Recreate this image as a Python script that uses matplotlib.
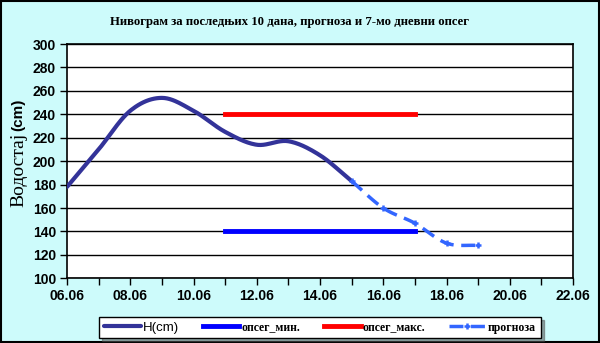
import numpy as np
import matplotlib
matplotlib.use('Agg')
import matplotlib.pyplot as plt
from matplotlib.patches import Rectangle
from matplotlib.ticker import MultipleLocator

# --- DATA ---
# day of June for each reading
days_h = [6, 7, 8, 9, 10, 11, 12, 13, 14, 15]
level_h = [178, 210, 243, 254, 243, 225, 214, 217, 205, 183]

days_fc = [15, 16, 17, 18, 19]
level_fc = [183, 160, 147, 130, 128]

range_days = [11, 17]
range_min = [140, 140]
range_max = [240, 240]

x_ticks = [6, 8, 10, 12, 14, 16, 18, 20, 22]
x_labels = ['%02d.06' % d for d in x_ticks]

BG = '#cdfbfb'


def smooth(x, y, n=24):
    """Catmull-Rom curve through the points (like Excel's smoothed line)."""
    x = np.asarray(x, float)
    y = np.asarray(y, float)
    px = np.concatenate([[2 * x[0] - x[1]], x, [2 * x[-1] - x[-2]]])
    py = np.concatenate([[2 * y[0] - y[1]], y, [2 * y[-1] - y[-2]]])
    xs, ys = [], []
    t = np.linspace(0, 1, n, endpoint=False)
    for i in range(1, len(px) - 2):
        for p, out in ((px, xs), (py, ys)):
            p0, p1, p2, p3 = p[i - 1], p[i], p[i + 1], p[i + 2]
            out.extend(0.5 * (2 * p1 + (-p0 + p2) * t
                              + (2 * p0 - 5 * p1 + 4 * p2 - p3) * t ** 2
                              + (-p0 + 3 * p1 - 3 * p2 + p3) * t ** 3))
    xs.append(x[-1])
    ys.append(y[-1])
    return np.array(xs), np.array(ys)


fig = plt.figure(figsize=(6.0, 3.43), dpi=100, facecolor=BG)
ax = fig.add_axes([67 / 600, 1 - 278.3 / 343, (573 - 67) / 600, (278.3 - 44) / 343])
ax.set_facecolor('white')

ax.set_xlim(6, 22)
ax.set_ylim(100, 300)

ax.yaxis.set_major_locator(MultipleLocator(20))
ax.grid(axis='y', color='black', linewidth=1.0)
ax.set_axisbelow(True)

sx, sy = smooth(days_h, level_h)
ax.plot(sx, sy, color='#333399', linewidth=3, label='H(cm)', solid_capstyle='round', zorder=4)
ax.plot(range_days, range_min, color='#0000ff', linewidth=3.5, label='опсег_мин.', zorder=3)
ax.plot(range_days, range_max, color='#ff0000', linewidth=3.5, label='опсег_макс.', zorder=3)

fx, fy = smooth(days_fc, level_fc)
ax.plot(fx, fy, color='#3366ff', linewidth=2.5, dashes=(4, 2.2), zorder=5)
ax.plot(days_fc, level_fc, color='#3366ff', linestyle='none', marker='+',
        markersize=5, markeredgewidth=1.8, zorder=5)
fc_handle, = ax.plot([], [], color='#3366ff', linewidth=2.5, dashes=(4, 2.2),
                     marker='+', markersize=5, markeredgewidth=1.8, label='прогноза')

ax.set_xticks(x_ticks)
ax.set_xticklabels(x_labels)
ax.xaxis.set_minor_locator(MultipleLocator(1))
ax.tick_params(axis='both', which='both', direction='out', color='black', width=1)
ax.tick_params(axis='both', which='major', length=5, pad=3)
ax.tick_params(axis='x', which='minor', length=5)
for lbl in ax.get_xticklabels() + ax.get_yticklabels():
    lbl.set_fontfamily('Liberation Sans')
    lbl.set_fontweight('bold')
    lbl.set_fontsize(10)

for s in ax.spines.values():
    s.set_color('black')
    s.set_linewidth(1.2)

fig.text(290 / 600, 1 - 22 / 343, 'Нивограм за последњих 10 дана, прогноза и 7-мо дневни опсег',
         ha='center', va='center', fontfamily='Liberation Serif', fontweight='bold', fontsize=9.2)

# y label: serif word plus bold sans unit
fig.text(19 / 600, 1 - 170 / 343, 'Водостај', rotation=90, ha='center', va='center',
         fontfamily='Liberation Serif', fontsize=14)
fig.text(18 / 600, 1 - 115 / 343, '(cm)', rotation=90, ha='center', va='center',
         fontfamily='Liberation Sans', fontweight='bold', fontsize=11)

leg = fig.legend(loc='center', bbox_to_anchor=(320 / 600, 1 - 327.5 / 343), ncol=4,
                 frameon=True, fancybox=False, shadow=True, handlelength=3.1,
                 handletextpad=0.2, columnspacing=2.0, borderpad=0.4,
                 prop={'family': 'Liberation Serif', 'weight': 'bold', 'size': 8.5})
leg.get_frame().set_edgecolor('black')
leg.get_frame().set_linewidth(1)
leg.get_texts()[0].set_fontfamily('Liberation Sans')
leg.get_texts()[0].set_fontweight('normal')
leg.get_texts()[0].set_fontsize(9.5)

fig.patches.append(Rectangle((0.0015, 0.0025), 0.997, 0.995, transform=fig.transFigure,
                             fill=False, edgecolor='black', linewidth=1.5))

fig.savefig('out.png', dpi=100, facecolor=BG)
